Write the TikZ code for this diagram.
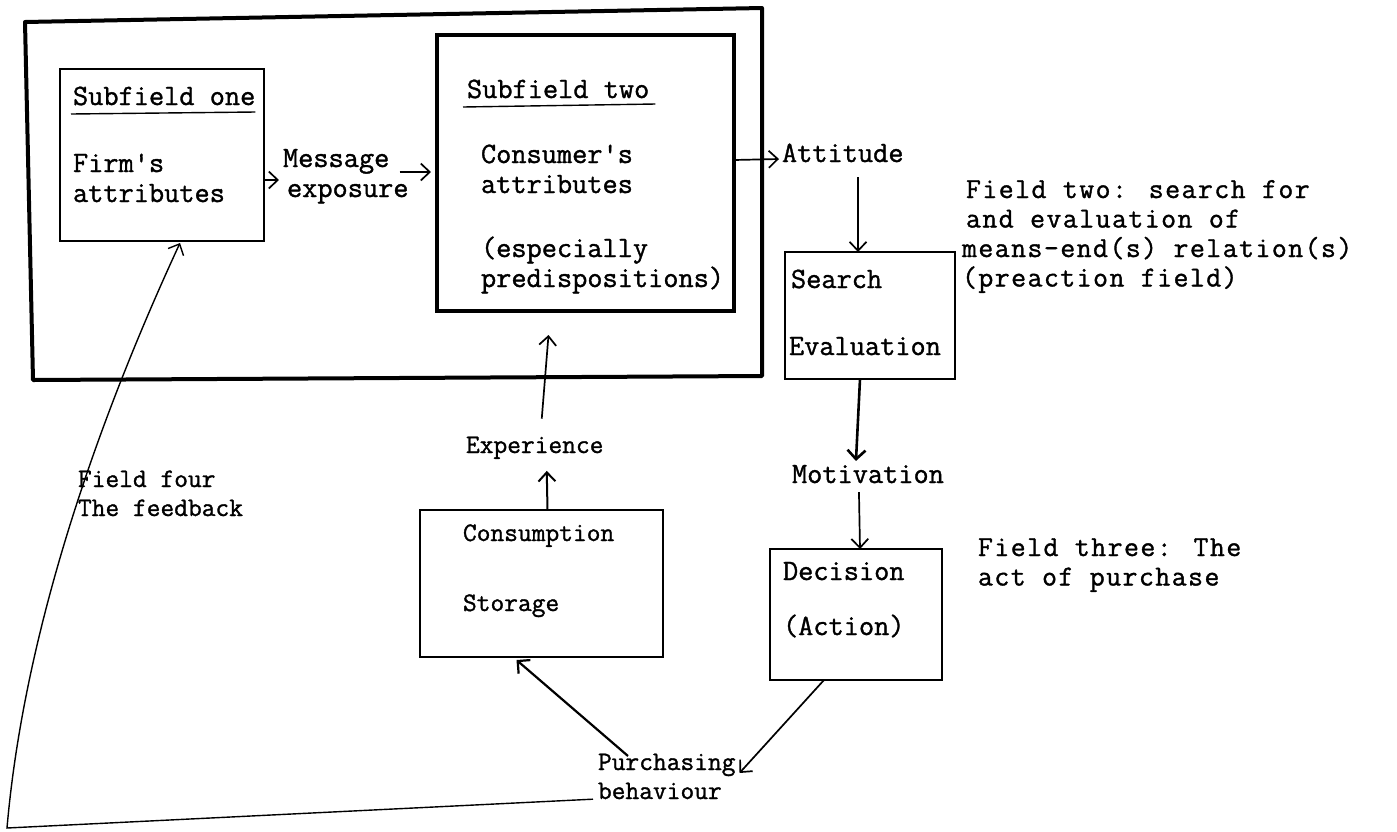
\documentclass[tikz,border=0pt]{standalone}
\usepackage{fontspec}
\newfontfamily\tw{Latin Modern Mono}[FakeBold=1.2]
\newfontfamily\twwide{Latin Modern Mono}[FakeBold=1.2, LetterSpace=5]
\usetikzlibrary{arrows.meta}
\begin{document}
\begin{tikzpicture}[x=1pt,y=-1pt,
  every node/.style={font=\tw\fontsize{29.5}{30}\selectfont, inner sep=0pt, outer sep=0pt},
  % multi-line labels are placed by the baseline of their last line
  lbl/.style={anchor=base west, align=left},
  smalltxt/.style={font=\tw\fontsize{26.7}{29}\selectfont},
  notetxt/.style={font=\twwide\fontsize{29}{29.5}\selectfont},
  frame/.style={draw, rectangle, line width=#1},
  arr/.style={-{Straight Barb[length=9pt,width=17pt]}, line width=1.7pt},
  heavyarr/.style={-{Straight Barb[length=9pt,width=18pt]}, line width=2.6pt},
  rule/.style={line width=1.4pt}
]
\fill[white] (0,0) rectangle (1397,831);
\useasboundingbox (0,0) rectangle (1397,831);

% field one: the outer frame
\draw[line width=4pt, line join=round] (25,22) -- (762,8) -- (762,376) -- (33,380) -- cycle;

% boxes
\node[frame=1.5pt, minimum width=204pt, minimum height=172pt] (sub1) at (162,155) {};
\node[frame=3.5pt, minimum width=297pt, minimum height=276pt] (sub2) at (585.5,173) {};
\node[frame=2.5pt, minimum width=170pt, minimum height=127pt] (search) at (870,315.5) {};
\node[frame=2pt, minimum width=243pt, minimum height=147pt] (cons) at (541.5,583.5) {};
\node[frame=2pt, minimum width=172pt, minimum height=131pt] (dec) at (856,614.5) {};

% subfield one
\node[lbl] (sf1) at (73,105) {Subfield one};
\draw[rule] ([shift={(-2,9)}]sf1.base west) -- ([shift={(0,7)}]sf1.base east);
\node[lbl] (firm) at (73,202) {Firm\textquotesingle s\\attributes};

% message exposure
\node[lbl] (msg) at (283,197) {Message\\\hspace*{4pt}exposure};

% subfield two
\node[lbl] (sf2) at (467,98) {Subfield two};
\draw[rule] ([shift={(-4,9)}]sf2.base west) -- ([shift={(6,6)}]sf2.base east);
\node[lbl] (con1) at (481,193) {Consumer\textquotesingle s\\attributes};
\node[lbl] (con2) at (481,287) {(especially\\predispositions)};

% field two
\node[lbl] (att) at (782,162) {Attitude};
\node[lbl, notetxt] (ft) at (962,286.5)
  {\hspace*{4pt}Field two: search for\\\hspace*{4pt}and evaluation of\\means-end(s) relation(s)\\(preaction field)};
\node[lbl] (srch) at (791,288) {Search};
\node[lbl] (eval) at (789,355) {Evaluation};

% field three
\node[lbl] (mot) at (792,483) {Motivation};
\node[lbl] (dec1) at (783,580) {Decision};
\node[lbl] (dec2) at (783,635) {(Action)};
\node[lbl, notetxt] (f3) at (978,585.5) {Field three: The\\act of purchase};

% consumption and experience
\node[lbl, smalltxt] (exp) at (466,453) {Experience};
\node[lbl, smalltxt] (cons1) at (463,541) {Consumption};
\node[lbl, smalltxt] (cons2) at (463,611) {Storage};

% field four
\node[lbl, smalltxt] (f4) at (78,516) {Field four\\The feedback};
\node[lbl, smalltxt] (pb) at (598,799) {Purchasing\\behaviour};

% connectors
\draw[arr] ([shift={(0,25)}]sub1.east) -- ([shift={(-4,-17)}]msg.base west);
\draw[arr] ([shift={(-9,-25)}]msg.base east) -- ([shift={(-6,-1)}]sub2.west);
\draw[arr] ([shift={(0,-13)}]sub2.east) -- ([shift={(-3,-3)}]att.base west);
\draw[arr] ([shift={(76,15)}]att.base west) -- ([shift={(-12,0)}]search.north);
\draw[heavyarr] ([shift={(-10,0)}]search.south) -- ([shift={(-12,-4)}]mot.north);
\draw[arr] ([shift={(-9,9)}]mot.south) -- ([shift={(4,0)}]dec.north);
\draw[arr] ([shift={(-32,0)}]dec.south) -- ([shift={(4,-26)}]pb.base east);
\draw[heavyarr, line width=2.2pt] ([shift={(30,-43)}]pb.base west) -- ([shift={(-25,3)}]cons.south);
\draw[arr, line width=2pt] ([shift={(6,0)}]cons.north) -- ([shift={(12,12)}]exp.south);
\draw[arr] ([shift={(7,-18)}]exp.north) -- ([shift={(-37,24)}]sub2.south);

% the feedback loop back to subfield one
\coordinate (fbcorner) at (7,828);
\draw[arr, line width=1.4pt] ([shift={(-5,0)}]pb.south west) -- (fbcorner)
  .. controls (25,620) and (105,405) .. ([shift={(18,2)}]sub1.south);
\end{tikzpicture}
\end{document}
